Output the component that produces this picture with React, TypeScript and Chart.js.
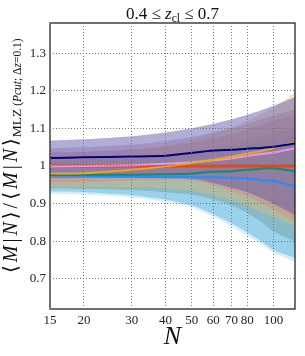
import React, { useEffect, useRef } from 'react';
import { Chart, registerables } from 'chart.js';

Chart.register(...registerables);

// ---- data ----
const N = [15, 20, 30, 40, 50, 60, 70, 80, 90, 100, 120];
const xTicks = [15, 20, 30, 40, 50, 60, 70, 80, 100];
const yTicks = [0.7, 0.8, 0.9, 1.0, 1.1, 1.2, 1.3];

const navyLine = [1.021, 1.023, 1.025, 1.027, 1.035, 1.041, 1.043, 1.046, 1.048, 1.051, 1.06];
const navyUpper = [1.068, 1.071, 1.079, 1.089, 1.1, 1.112, 1.124, 1.136, 1.148, 1.16, 1.183];
const navyLower = [0.968, 0.968, 0.968, 0.968, 0.966, 0.955, 0.942, 0.93, 0.915, 0.9, 0.87];

const goldLine = [0.98, 0.981, 0.99, 0.999, 1.008, 1.017, 1.025, 1.033, 1.04, 1.048, 1.063];
const goldUpper = [1.025, 1.028, 1.04, 1.055, 1.07, 1.086, 1.102, 1.12, 1.138, 1.155, 1.196];
const goldLower = [0.945, 0.945, 0.944, 0.94, 0.935, 0.922, 0.908, 0.893, 0.878, 0.865, 0.84];

const pinkLine = [0.999, 1.0, 1.002, 1.006, 1.01, 1.015, 1.02, 1.027, 1.032, 1.036, 1.047];
const pinkUpper = [1.047, 1.05, 1.057, 1.066, 1.077, 1.089, 1.1, 1.112, 1.124, 1.135, 1.15];
const pinkLower = [0.96, 0.96, 0.964, 0.965, 0.963, 0.952, 0.938, 0.924, 0.908, 0.892, 0.86];

const redLine = [1.0, 1.0, 1.0, 1.0, 1.0, 1.0, 1.0, 1.0, 1.0, 1.0, 1.0];
const redUpper = [1.036, 1.038, 1.044, 1.052, 1.062, 1.073, 1.085, 1.097, 1.108, 1.12, 1.137];
const redLower = [0.956, 0.957, 0.961, 0.963, 0.961, 0.949, 0.933, 0.918, 0.902, 0.884, 0.85];

const tealLine = [0.976, 0.976, 0.977, 0.978, 0.98, 0.985, 0.986, 0.99, 0.993, 0.994, 0.986];
const tealUpper = [1.012, 1.013, 1.018, 1.025, 1.035, 1.047, 1.058, 1.07, 1.08, 1.088, 1.1];
const tealLower = [0.94, 0.939, 0.936, 0.93, 0.924, 0.91, 0.895, 0.875, 0.852, 0.826, 0.8];

const blueLine = [0.975, 0.974, 0.972, 0.97, 0.97, 0.97, 0.969, 0.967, 0.963, 0.96, 0.946];
const blueUpper = [1.02, 1.02, 1.022, 1.026, 1.032, 1.04, 1.048, 1.056, 1.062, 1.068, 1.08];
const blueLower = [0.932, 0.93, 0.922, 0.91, 0.895, 0.872, 0.848, 0.823, 0.8, 0.777, 0.756];
const blueOuterLower = [0.926, 0.924, 0.917, 0.905, 0.89, 0.865, 0.84, 0.815, 0.792, 0.77, 0.745];

const SERIF = "'Liberation Serif', 'DejaVu Serif', serif";

type Piece = { t: string; size: number; italic?: boolean; dy?: number; gap?: number };

function fontOf(p: Piece) {
  return `${p.italic ? 'italic ' : ''}${p.size}px ${SERIF}`;
}

function drawPieces(ctx: CanvasRenderingContext2D, pieces: Piece[], x: number, y: number, center: boolean) {
  let total = 0;
  for (const p of pieces) {
    ctx.font = fontOf(p);
    total += ctx.measureText(p.t).width + (p.gap || 0);
  }
  let cx = center ? x - total / 2 : x;
  for (const p of pieces) {
    ctx.font = fontOf(p);
    ctx.fillText(p.t, cx, y + (p.dy || 0));
    cx += ctx.measureText(p.t).width + (p.gap || 0);
  }
}

const titlePieces: Piece[] = [
  { t: '0.4 \u2264 ', size: 17 },
  { t: 'z', size: 17, italic: true },
  { t: 'cl', size: 11.5, dy: 3 },
  { t: ' \u2264 0.7', size: 17 },
];

const B = 20;
const G = 3;
const S = 11.5;
const yLabelPieces: Piece[] = [
  { t: '\u27E8', size: B, gap: G },
  { t: 'M', size: B, italic: true, gap: G },
  { t: '|', size: B, gap: G },
  { t: 'N', size: B, italic: true, gap: G },
  { t: '\u27E9', size: B, gap: G },
  { t: '/', size: B, gap: G },
  { t: '\u27E8', size: B, gap: G },
  { t: 'M', size: B, italic: true, gap: G },
  { t: '|', size: B, gap: G },
  { t: 'N', size: B, italic: true, gap: G },
  { t: '\u27E9', size: B, gap: 1 },
  { t: 'MLZ', size: 13.5, dy: 4 },
  { t: ' (', size: S, dy: 4 },
  { t: 'Pcut', size: S, italic: true, dy: 4 },
  { t: '; \u0394', size: S, dy: 4 },
  { t: 'z', size: S, italic: true, dy: 4 },
  { t: '=0.1)', size: S, dy: 4 },
];

const annotations = {
  id: 'annotations',
  afterDatasetsDraw(chart: any) {
    const { ctx, chartArea } = chart;
    ctx.save();
    ctx.strokeStyle = '#111';
    ctx.lineWidth = 1.2;
    ctx.strokeRect(chartArea.left, chartArea.top, chartArea.right - chartArea.left, chartArea.bottom - chartArea.top);
    ctx.restore();
  },
  afterDraw(chart: any) {
    const { ctx, chartArea } = chart;
    ctx.save();
    ctx.fillStyle = '#111';
    ctx.textBaseline = 'alphabetic';
    ctx.textAlign = 'left';
    drawPieces(ctx, titlePieces, (chartArea.left + chartArea.right) / 2, 19, true);
    ctx.translate(17, 273);
    ctx.rotate(-Math.PI / 2);
    drawPieces(ctx, yLabelPieces, 0, 0, false);
    ctx.restore();
  },
};

function pts(vals: number[]) {
  return vals.map((v, i) => ({ x: N[i], y: v }));
}

function band(upper: number[], lower: number[], color: string) {
  return [
    { data: pts(upper), borderWidth: 0, pointRadius: 0, fill: false, tension: 0.3, order: 10 },
    { data: pts(lower), borderWidth: 0, pointRadius: 0, fill: '-1', backgroundColor: color, tension: 0.3, order: 10 },
  ];
}

function line(vals: number[], color: string, width: number) {
  return { data: pts(vals), borderColor: color, borderWidth: width, pointRadius: 0, fill: false, tension: 0.25, order: 0 };
}

export default function App() {
  const ref = useRef<HTMLCanvasElement>(null);
  useEffect(() => {
    document.body.style.margin = '0';
    const canvas = ref.current!;
    const chart = new Chart(canvas, {
      type: 'line',
      data: {
        datasets: [
          line(navyLine, '#000080', 2),
          line(goldLine, '#E8A81C', 2),
          line(pinkLine, '#EE94E6', 2),
          line(tealLine, '#0E8A80', 2),
          line(blueLine, '#1E90FF', 2),
          line(redLine, '#D94A1E', 3),
          ...band(navyUpper, navyLower, 'rgba(90,85,170,0.48)'),
          ...band(goldUpper, goldLower, 'rgba(230,190,110,0.4)'),
          ...band(pinkUpper, pinkLower, 'rgba(190,120,180,0.4)'),
          ...band(redUpper, redLower, 'rgba(200,110,110,0.4)'),
          ...band(tealUpper, tealLower, 'rgba(105,150,150,0.4)'),
          ...band(blueUpper, blueLower, 'rgba(110,190,222,0.55)'),
          ...band(blueUpper, blueOuterLower, 'rgba(175,215,250,0.5)'),
        ] as any,
      },
      options: {
        animation: false,
        responsive: false,
        devicePixelRatio: 1,
        layout: { padding: { top: 23, right: 10, left: 0, bottom: 0 } },
        plugins: { legend: { display: false }, tooltip: { enabled: false }, title: { display: false } },
        scales: {
          x: {
            type: 'logarithmic',
            min: 15,
            max: 120,
            afterFit: (s: any) => { s.height = 47; },
            afterBuildTicks: (s: any) => { s.ticks = xTicks.map((v) => ({ value: v })); },
            ticks: {
              autoSkip: false,
              maxRotation: 0,
              padding: 4,
              color: '#222',
              font: { family: SERIF, size: 13 },
              callback: (v: any) => String(v),
            },
            grid: { z: 1, color: '#777', lineWidth: 1, borderDash: [1, 2], drawTicks: false } as any,
            border: { display: false, dash: [1, 2] } as any,
            title: {
              display: true,
              text: 'N',
              color: '#111',
              font: { family: SERIF, size: 26, style: 'italic' },
              padding: { top: 0, bottom: 3 },
            },
          },
          y: {
            type: 'linear',
            min: 0.62,
            max: 1.38,
            afterFit: (s: any) => { s.width = 50; },
            afterBuildTicks: (s: any) => { s.ticks = yTicks.map((v) => ({ value: v })); },
            ticks: {
              padding: 4,
              color: '#222',
              font: { family: SERIF, size: 13 },
              callback: (v: any) => (Math.abs(v - 1) < 1e-9 ? '1' : Number(v).toFixed(1)),
            },
            grid: { z: 1, color: '#777', lineWidth: 1, borderDash: [1, 2], drawTicks: false } as any,
            border: { display: false, dash: [1, 2] } as any,
          },
        },
      },
      plugins: [annotations],
    } as any);
    return () => chart.destroy();
  }, []);
  return <canvas ref={ref} width={305} height={356} style={{ display: 'block' }} />;
}
